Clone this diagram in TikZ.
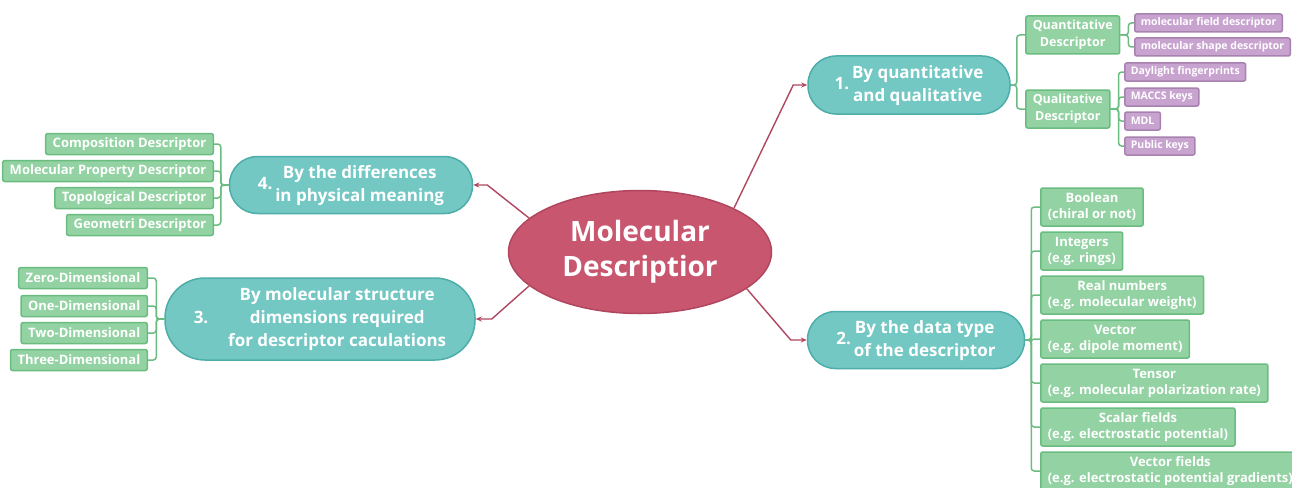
\documentclass[tikz,border=0pt]{standalone}
\usepackage{fontspec}
\setmainfont{Open Sans}
\usetikzlibrary{shapes.geometric,arrows.meta}

\definecolor{rootred}{HTML}{C9566F}
\definecolor{rootline}{HTML}{B0465F}
\definecolor{topicteal}{HTML}{73C8C4}
\definecolor{tealline}{HTML}{4DAEA9}
\definecolor{leafgreen}{HTML}{93D2A2}
\definecolor{leafline}{HTML}{6ABC80}
\definecolor{leafpurple}{HTML}{C8A3CF}
\definecolor{purpleline}{HTML}{A782AF}

\newcommand{\numbered}[2]{#1\,\begin{tabular}{@{}c@{}}#2\end{tabular}}

\tikzset{
  root/.style={draw=rootline, line width=1.5pt, fill=rootred, ellipse, text=white,
    font=\fontsize{28}{35}\selectfont\bfseries, align=center,
    minimum width=263pt, minimum height=123pt, inner sep=0pt},
  topic/.style={draw=tealline, line width=1.5pt, fill=topicteal, rectangle,
    rounded corners=28pt, text=white, font=\fontsize{17}{23}\selectfont\bfseries,
    minimum height=58pt, inner sep=0pt},
  leaf/.style={draw=leafline, line width=1.5pt, fill=leafgreen, rectangle,
    rounded corners=2pt, text=white, font=\fontsize{13}{16}\selectfont\bfseries,
    align=center, inner xsep=7pt, inner ysep=0pt},
  pairleaf/.style={leaf, minimum height=38pt},
  sideleaf/.style={leaf, minimum height=21pt},
  subleaf/.style={leaf, draw=purpleline, fill=leafpurple, minimum height=18pt,
    inner xsep=6pt, font=\fontsize{10.5}{13}\selectfont\bfseries},
  link/.style={draw=rootline, line width=1.4pt, -{Stealth[length=6pt,width=5pt]}},
  branch/.style={draw=leafline, line width=1.5pt, rounded corners=3pt},
}

\begin{document}
\begin{tikzpicture}[x=1pt,y=-1pt]
  \useasboundingbox (0,0) rectangle (1292,487);

  % centre
  \node (mol) at (640,252) [root] {Molecular\\Descriptior};

  % main branches
  \node (t1) at (909,85) [topic, minimum width=202pt] {\numbered{1.}{By quantitative\\and qualitative}};
  \node (t2) at (916,340) [topic, minimum width=217pt, minimum height=57pt] {\numbered{2.}{By the data type\\of the descriptor}};
  \node (t3) at (320,319) [topic, minimum width=310pt, minimum height=82pt, rounded corners=40pt] {\numbered{3.\quad}{By molecular structure\\dimensions required\\for descriptor caculations}};
  \node (t4) at (351,185) [topic, minimum width=243pt, minimum height=57pt] {\numbered{4.}{By the differences\\in physical meaning}};

  \draw [link] (mol.25) -- ([xshift=-14pt]t1.west) -- (t1.west);
  \draw [link] (mol.-19) -- ([xshift=-16pt]t2.west) -- (t2.west);
  \draw [link] (mol.197) -- ([xshift=16pt]t3.east) -- (t3.east);
  \draw [link] (mol.163) -- ([xshift=14pt]t4.east) -- (t4.east);

  % 1. quantitative / qualitative
  \node (quant) at (1025,35) [pairleaf, anchor=west, font=\fontsize{12.5}{17}\selectfont\bfseries] {Quantitative\\Descriptor};
  \node (qual) at (1025,109) [pairleaf, anchor=west, font=\fontsize{12.5}{17}\selectfont\bfseries] {Qualitative\\Descriptor};
  \node (field) at (1134,23) [subleaf, anchor=west] {molecular field descriptor};
  \node (shape) at (1134,47) [subleaf, anchor=west] {molecular shape descriptor};
  \node (daylight) at (1124,72) [subleaf, anchor=west] {Daylight fingerprints};
  \node (maccs) at (1124,97) [subleaf, anchor=west] {MACCS keys};
  \node (mdl) at (1124,121) [subleaf, anchor=west] {MDL};
  \node (public) at (1124,146) [subleaf, anchor=west] {Public keys};

  \foreach \c in {quant,qual}
    \draw [branch] (t1.east) -- ++(6,0) |- (\c.west);
  \foreach \c in {field,shape}
    \draw [branch] (quant.east) -- ++(8,0) |- (\c.west);
  \foreach \c in {daylight,maccs,mdl,public}
    \draw [branch] (qual.east) -- ++(8,0) |- (\c.west);

  % 2. data type
  \node (bool) at (1040,207) [pairleaf, anchor=west] {Boolean\\(chiral or not)};
  \node (intg) at (1040,251) [pairleaf, anchor=west] {Integers\\(e.g. rings)};
  \node (real) at (1040,295) [pairleaf, anchor=west] {Real numbers\\(e.g. molecular weight)};
  \node (vect) at (1040,339) [pairleaf, anchor=west] {Vector\\(e.g. dipole moment)};
  \node (tens) at (1040,383) [pairleaf, anchor=west] {Tensor\\(e.g. molecular polarization rate)};
  \node (scal) at (1040,427) [pairleaf, anchor=west] {Scalar fields\\(e.g. electrostatic potential)};
  \node (vfld) at (1040,471) [pairleaf, anchor=west] {Vector fields\\(e.g. electrostatic potential gradients)};

  \foreach \c in {bool,intg,real,vect,tens,scal,vfld}
    \draw [branch] (t2.east) -- ++(6,0) |- (\c.west);

  % 3. dimensions
  \node (zero) at (148,278) [sideleaf, anchor=east] {Zero-Dimensional};
  \node (one) at (148,306) [sideleaf, anchor=east] {One-Dimensional};
  \node (two) at (148,333) [sideleaf, anchor=east] {Two-Dimensional};
  \node (three) at (148,360) [sideleaf, anchor=east] {Three-Dimensional};

  \foreach \c in {zero,one,two,three}
    \draw [branch] (t3.west) -- ++(-8,0) |- (\c.east);

  % 4. physical meaning
  \node (comp) at (214,144) [sideleaf, anchor=east] {Composition Descriptor};
  \node (prop) at (214,171) [sideleaf, anchor=east] {Molecular Property Descriptor};
  \node (topo) at (214,198) [sideleaf, anchor=east] {Topological Descriptor};
  \node (geom) at (214,225) [sideleaf, anchor=east] {Geometri Descriptor};

  \foreach \c in {comp,prop,topo,geom}
    \draw [branch] (t4.west) -- ++(-8,0) |- (\c.east);
\end{tikzpicture}
\end{document}
